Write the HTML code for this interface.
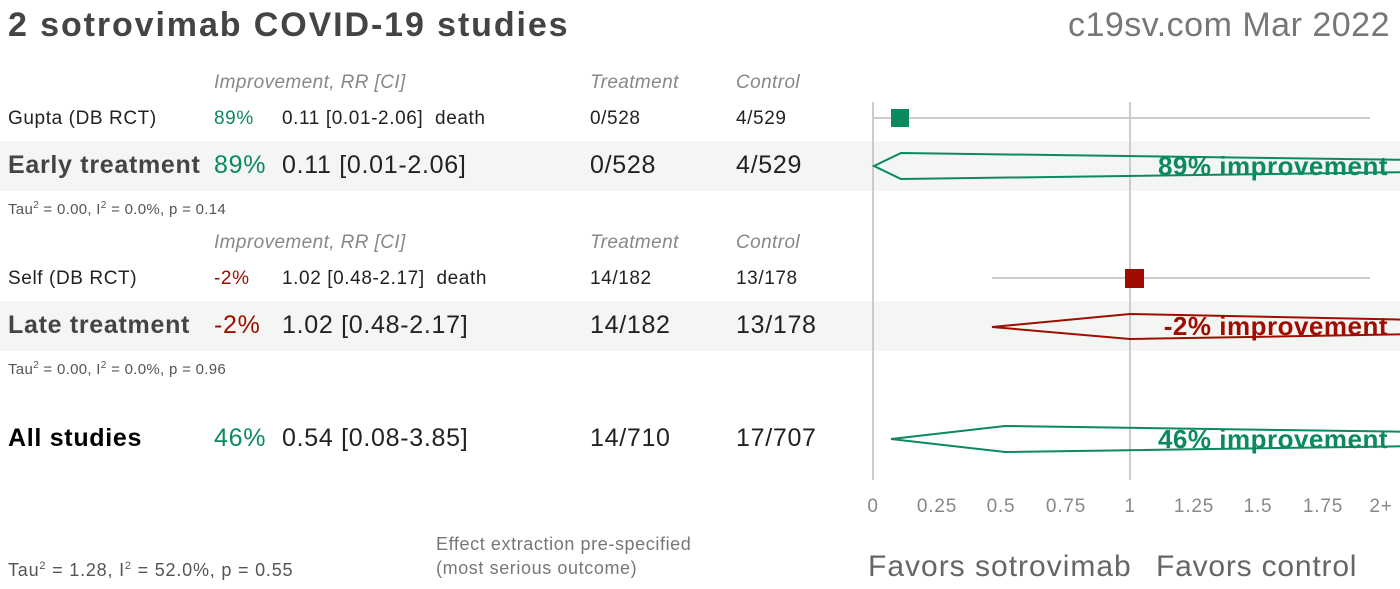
<!DOCTYPE html>
<html><head><style>
body{margin:0;width:1400px;height:589px;background:#fff;font-family:"Liberation Sans",sans-serif;position:relative;overflow:hidden}
.t{position:absolute;white-space:nowrap}
.h{color:#888;font-style:italic;font-size:19px;letter-spacing:0.4px}
.s{font-size:19px;color:#222;letter-spacing:0.6px}
.b{font-size:25px;color:#222;letter-spacing:0.7px}
.g{color:#0b8a5e}.r{color:#a00d00}
.sm{font-size:15px;color:#555;letter-spacing:0.3px}
.band{position:absolute;left:0;width:1400px;background:#f3f6f3}
</style></head><body>
<div class="band" style="top:141px;height:50px"></div>
<div class="band" style="top:301px;height:50px"></div>
<div class="t" style="left:8px;top:6px;font-size:34px;font-weight:bold;color:#444;letter-spacing:1.9px">2 sotrovimab COVID-19 studies</div>
<div class="t" style="right:10px;top:6px;font-size:34px;color:#777;letter-spacing:0.5px">c19sv.com Mar 2022</div>

<div class="t h" style="left:214px;top:72px">Improvement, RR [CI]</div>
<div class="t h" style="left:590px;top:72px">Treatment</div>
<div class="t h" style="left:736px;top:72px">Control</div>
<div class="t s" style="left:8px;top:108px">Gupta (DB RCT)</div>
<div class="t s g" style="left:214px;top:108px">89%</div>
<div class="t s" style="left:282px;top:108px">0.11 [0.01-2.06]&nbsp;&nbsp;death</div>
<div class="t s" style="left:590px;top:108px">0/528</div>
<div class="t s" style="left:736px;top:108px">4/529</div>
<div class="t b" style="left:8px;top:151px;font-weight:bold;color:#444">Early treatment</div>
<div class="t b g" style="left:214px;top:151px">89%</div>
<div class="t b" style="left:282px;top:151px">0.11 [0.01-2.06]</div>
<div class="t b" style="left:590px;top:151px">0/528</div>
<div class="t b" style="left:736px;top:151px">4/529</div>
<div class="t sm" style="left:8px;top:200px">Tau<sup style="font-size:10px">2</sup> = 0.00, I<sup style="font-size:10px">2</sup> = 0.0%, p = 0.14</div>

<div class="t h" style="left:214px;top:232px">Improvement, RR [CI]</div>
<div class="t h" style="left:590px;top:232px">Treatment</div>
<div class="t h" style="left:736px;top:232px">Control</div>
<div class="t s" style="left:8px;top:268px">Self (DB RCT)</div>
<div class="t s r" style="left:214px;top:268px">-2%</div>
<div class="t s" style="left:282px;top:268px">1.02 [0.48-2.17]&nbsp;&nbsp;death</div>
<div class="t s" style="left:590px;top:268px">14/182</div>
<div class="t s" style="left:736px;top:268px">13/178</div>
<div class="t b" style="left:8px;top:311px;font-weight:bold;color:#444">Late treatment</div>
<div class="t b r" style="left:214px;top:311px">-2%</div>
<div class="t b" style="left:282px;top:311px">1.02 [0.48-2.17]</div>
<div class="t b" style="left:590px;top:311px">14/182</div>
<div class="t b" style="left:736px;top:311px">13/178</div>
<div class="t sm" style="left:8px;top:360px">Tau<sup style="font-size:10px">2</sup> = 0.00, I<sup style="font-size:10px">2</sup> = 0.0%, p = 0.96</div>

<div class="t b" style="left:8px;top:424px;font-weight:bold;color:#000">All studies</div>
<div class="t b g" style="left:214px;top:424px">46%</div>
<div class="t b" style="left:282px;top:424px">0.54 [0.08-3.85]</div>
<div class="t b" style="left:590px;top:424px">14/710</div>
<div class="t b" style="left:736px;top:424px">17/707</div>

<div class="t" style="left:8px;top:560px;font-size:18px;color:#555;letter-spacing:0.8px">Tau<sup style="font-size:11px">2</sup> = 1.28, I<sup style="font-size:11px">2</sup> = 52.0%, p = 0.55</div>
<div class="t" style="left:436px;top:532px;font-size:18px;color:#777;line-height:24px;letter-spacing:0.6px">Effect extraction pre-specified<br>(most serious outcome)</div>
<div class="t" style="left:868px;top:550px;font-size:30px;color:#666;letter-spacing:1px">Favors sotrovimab</div>
<div class="t" style="left:1156px;top:550px;font-size:30px;color:#666;letter-spacing:0.8px">Favors control</div>

<svg style="position:absolute;left:0;top:0" width="1400" height="589">
<g stroke="#ccc" stroke-width="2">
<line x1="873" y1="102" x2="873" y2="480"/><line x1="1130" y1="102" x2="1130" y2="480"/>
<line x1="874" y1="118" x2="1370" y2="118"/><line x1="992" y1="278" x2="1370" y2="278"/>
</g>
<rect x="891" y="109" width="18" height="18" fill="#0b8a5e"/>
<rect x="1125" y="269" width="19" height="19" fill="#a00d00"/>
<polygon points="874,166 901,153 1420,160 1420,172 901,179" fill="none" stroke="#0b8a5e" stroke-width="2"/>
<polygon points="992,327 1130,314 1420,320 1420,334 1130,339" fill="none" stroke="#a00d00" stroke-width="2"/>
<polygon points="891,439 1005,426 1420,432 1420,446 1005,452" fill="none" stroke="#0b8a5e" stroke-width="2"/>
<g font-family="Liberation Sans" font-weight="bold" font-size="26" text-anchor="end" letter-spacing="0.5">
<text x="1388" y="175" fill="#0b8a5e">89% improvement</text>
<text x="1388" y="335" fill="#a00d00">-2% improvement</text>
<text x="1388" y="448" fill="#0b8a5e">46% improvement</text>
</g>
<g font-family="Liberation Sans" font-size="19" fill="#888" text-anchor="middle" letter-spacing="0.8">
<text x="873" y="512">0</text><text x="937" y="512">0.25</text><text x="1001" y="512">0.5</text>
<text x="1066" y="512">0.75</text><text x="1130" y="512">1</text><text x="1194" y="512">1.25</text>
<text x="1258" y="512">1.5</text><text x="1323" y="512">1.75</text><text x="1381" y="512">2+</text>
</g>
</svg>
</body></html>
